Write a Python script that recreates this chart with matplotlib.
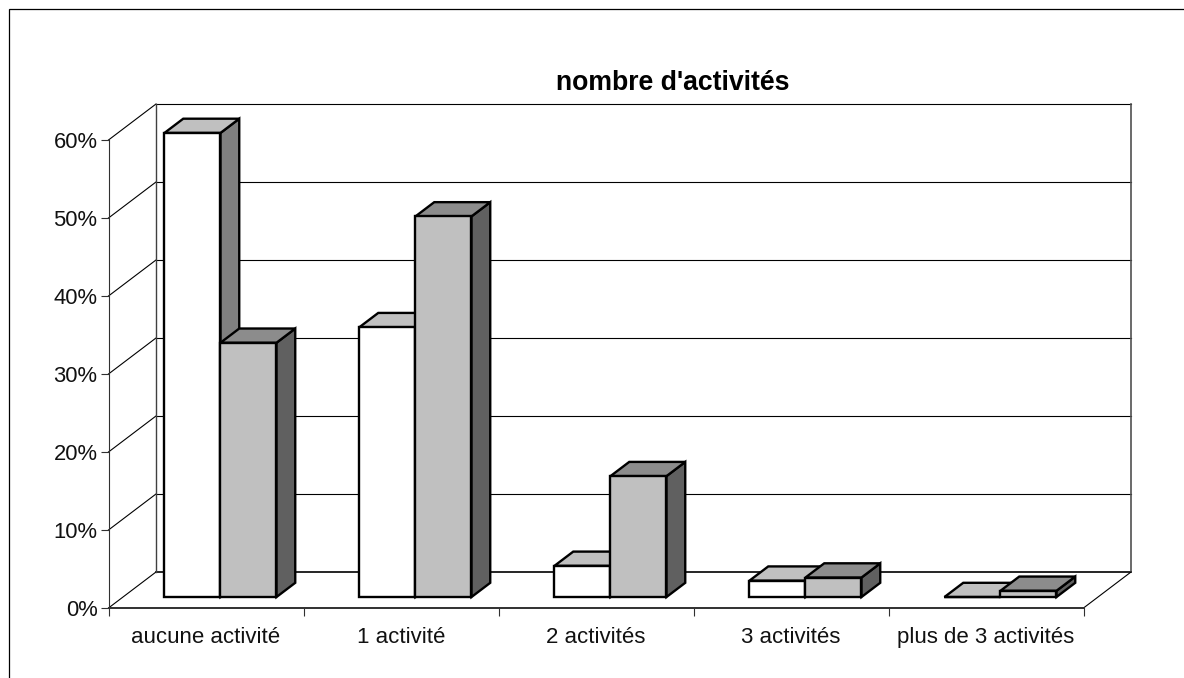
import matplotlib
matplotlib.use("Agg")
import matplotlib.pyplot as plt
from matplotlib.patches import Polygon, Rectangle
from matplotlib.ticker import FuncFormatter

plt.rcParams['font.family'] = ['Liberation Sans', 'DejaVu Sans']

title = "nombre d'activités"
categories = ["aucune activité", "1 activité", "2 activités", "3 activités", "plus de 3 activités"]
series_a = [59.5, 34.6, 4.0, 2.1, 0.0]
series_b = [32.6, 48.8, 15.5, 2.5, 0.8]
y_ticks = [0, 10, 20, 30, 40, 50, 60]

W, H = 1184, 678
fig = plt.figure(figsize=(W / 100, H / 100), dpi=100)
fig.patch.set_facecolor('white')
fig.add_artist(Rectangle((9 / W, -0.1), 1.2, 1.1 - 9.5 / H, transform=fig.transFigure,
                         fill=False, ec='black', lw=0.9))

X0, X1, Y0, Y1 = 108.5, 1083.5, 608, 140
ax = fig.add_axes([X0 / W, (H - Y0) / H, (X1 - X0) / W, (Y0 - Y1) / H])
ax.set_xlim(0, 5)
ax.set_ylim(0, 60)
ax.set_facecolor('none')
for s in ['top', 'right']:
    ax.spines[s].set_visible(False)
ax.spines['left'].set_color('#303030')
ax.spines['left'].set_linewidth(0.8)
ax.spines['bottom'].set_color('#303030')
ax.spines['bottom'].set_linewidth(1.4)

DX = 47.5 * 5 / (X1 - X0)      # full depth of the box, in x units
DY = 36 * 60 / (Y0 - Y1)       # full depth of the box, in y units


def proj(x, y, depth):
    return (x + depth * DX, y + depth * DY)


# walls
kw = dict(color='black', lw=0.8, clip_on=False, zorder=1, solid_capstyle='projecting')
for v in y_ticks:
    a, b = proj(0, v, 0), proj(0, v, 1)
    ax.plot([a[0], b[0]], [a[1], b[1]], **kw)
    c = proj(5, v, 1)
    ax.plot([b[0], c[0]], [b[1], c[1]], **{**kw, 'lw': 1.2 if v == 0 else 0.8})
a, b = proj(0, 0, 1), proj(0, 60, 1)
ax.plot([a[0], b[0]], [a[1], b[1]], **{**kw, 'color': '#404040', 'lw': 1.0})
a, b = proj(5, 0, 1), proj(5, 60, 1)
ax.plot([a[0], b[0]], [a[1], b[1]], **{**kw, 'color': '#505050', 'lw': 1.2})
a, b = proj(5, 0, 0), proj(5, 0, 1)
ax.plot([a[0], b[0]], [a[1], b[1]], **kw)

# bars
BAR_W = 56 / 195
GAP = (1 - 2 * BAR_W) / 2
D_FRONT, D_BACK = 0.305, 0.70
bar_kw = dict(ec='black', lw=1.7, joinstyle='miter', clip_on=False, zorder=3)


def bar3d(x, v, front, top, side):
    w = BAR_W
    ax.add_patch(Polygon([proj(x + w, 0, D_FRONT), proj(x + w, 0, D_BACK),
                          proj(x + w, v, D_BACK), proj(x + w, v, D_FRONT)], fc=side, **bar_kw))
    ax.add_patch(Polygon([proj(x, v, D_FRONT), proj(x + w, v, D_FRONT),
                          proj(x + w, v, D_BACK), proj(x, v, D_BACK)], fc=top, **bar_kw))
    ax.add_patch(Polygon([proj(x, 0, D_FRONT), proj(x + w, 0, D_FRONT),
                          proj(x + w, v, D_FRONT), proj(x, v, D_FRONT)], fc=front, **bar_kw))


for i, (va, vb) in enumerate(zip(series_a, series_b)):
    x = i + GAP
    bar3d(x, va, 'white', '#c0c0c0', '#808080')
    bar3d(x + BAR_W, vb, '#c0c0c0', '#8c8c8c', '#606060')

# axes furniture
ax.set_yticks(y_ticks)
ax.yaxis.set_major_formatter(FuncFormatter(lambda v, _: f"{v:.0f}%"))
ax.tick_params(axis='y', length=5.8, width=0.8, color='#303030', labelsize=15.8, pad=2.2, labelcolor='#111111')
ax.set_xticks(range(6))
ax.set_xticklabels([])
ax.tick_params(axis='x', which='major', length=5.8, width=0.8, color='#303030')
ax.set_xticks([i + 0.5 for i in range(5)], minor=True)
ax.set_xticklabels(categories, minor=True)
ax.tick_params(axis='x', which='minor', length=0, labelsize=16, pad=14, labelcolor='#111111')

fig.text(672.5 / W, 1 - 83.5 / H, title, ha='center', va='center', fontsize=19.2, fontweight='bold', color='black')

fig.savefig('out.png', dpi=100)
